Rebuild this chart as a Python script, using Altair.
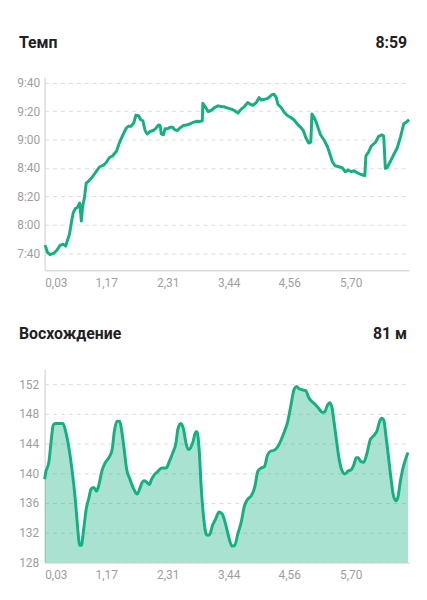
import altair as alt
import pandas as pd

GREEN = "#14b082"

pace_title = "Темп"
pace_value = "8:59"
elev_title = "Восхождение"
elev_value = "81 м"

x_ticks = [0.03, 1.17, 2.31, 3.44, 4.56, 5.70]
pace_ticks = [460, 480, 500, 520, 540, 560, 580]
elev_ticks = [128, 132, 136, 140, 144, 148, 152]

pace_km = [0.04,0.08,0.13,0.20,0.26,0.31,0.37,0.42,0.45,0.49,0.53,0.56,0.60,0.64,0.68,0.71,0.73,0.77,0.80,0.85,
           0.91,0.97,1.05,1.12,1.17,1.23,1.29,1.36,1.42,1.48,1.54,1.58,1.63,1.68,1.72,1.77,1.81,1.85,1.89,1.93,
           1.98,2.04,2.09,2.14,2.17,2.19,2.23,2.26,2.31,2.35,2.40,2.44,2.49,2.53,2.60,2.66,2.72,2.78,2.84,2.90,
           2.95,2.96,3.00,3.06,3.12,3.18,3.24,3.30,3.36,3.42,3.49,3.55,3.61,3.67,3.73,3.79,3.84,3.89,3.95,4.00,
           4.04,4.10,4.16,4.20,4.24,4.28,4.32,4.35,4.41,4.47,4.53,4.59,4.65,4.71,4.78,4.82,4.87,4.92,4.96,4.98,
           5.02,5.06,5.10,5.14,5.21,5.27,5.31,5.36,5.41,5.48,5.54,5.60,5.65,5.71,5.76,5.82,5.88,5.96,5.98,6.03,
           6.08,6.16,6.22,6.28,6.31,6.34,6.37,6.43,6.49,6.56,6.62,6.68,6.74,6.78]
pace_min = [465.7,460.7,459.0,460.0,462.3,465.3,466.4,465.0,468.8,473.4,482.7,488.5,491.5,492.4,495.4,482.7,492.0,500.0,509.3,511.0,
            513.5,516.7,520.9,522.0,523.9,527.4,528.6,531.8,538.3,543.4,548.0,549.4,549.4,551.7,557.3,556.8,554.0,553.3,546.4,544.0,
            545.7,546.4,548.0,550.3,549.9,544.0,543.4,547.6,547.6,548.7,548.7,546.9,546.4,548.0,549.9,550.3,551.0,552.2,552.9,552.7,
            553.3,565.6,563.3,559.6,560.8,562.6,563.8,563.3,563.1,562.2,561.5,560.3,558.7,561.5,563.3,566.1,564.9,564.2,566.1,569.6,
            567.9,568.4,569.1,570.3,571.7,571.9,569.6,564.9,562.6,559.1,556.8,555.6,553.8,551.0,548.3,546.4,541.1,537.6,538.3,558.0,
            555.7,552.2,547.6,543.4,539.4,534.8,530.2,524.4,521.6,520.9,520.2,517.4,518.6,517.4,518.1,516.7,515.6,514.6,528.6,531.3,
            535.5,538.3,542.5,543.4,542.5,519.7,520.2,524.4,529.0,534.1,541.8,551.0,552.7,554.0]

elev_km = [0.03,0.05,0.11,0.15,0.19,0.23,0.31,0.37,0.42,0.48,0.54,0.60,0.64,0.68,0.71,0.75,0.80,0.85,0.89,0.94,
           0.99,1.03,1.09,1.15,1.22,1.28,1.32,1.37,1.42,1.46,1.50,1.55,1.61,1.68,1.74,1.79,1.83,1.87,1.92,1.97,
           2.01,2.06,2.12,2.20,2.28,2.34,2.40,2.46,2.50,2.55,2.60,2.65,2.69,2.73,2.78,2.83,2.85,2.89,2.93,2.98,
           3.03,3.08,3.14,3.20,3.26,3.32,3.38,3.44,3.50,3.55,3.61,3.67,3.73,3.79,3.85,3.92,3.98,4.04,4.10,4.16,
           4.22,4.28,4.35,4.41,4.47,4.53,4.59,4.65,4.70,4.74,4.82,4.87,4.92,4.99,5.05,5.11,5.17,5.22,5.27,5.31,
           5.35,5.39,5.43,5.48,5.53,5.59,5.65,5.71,5.76,5.80,5.84,5.88,5.94,6.00,6.06,6.13,6.19,6.23,6.27,6.31,
           6.35,6.40,6.45,6.49,6.54,6.57,6.62,6.66,6.71,6.76]
elev_m = [139.2,140.1,141.6,144.3,146.5,146.7,146.7,146.7,145.6,143.4,140.3,136.3,132.8,130.3,130.3,132.3,135.2,136.7,137.9,138.1,
          137.6,138.3,140.3,141.4,142.1,143.2,145.6,147.0,147.0,145.6,143.4,140.5,139.2,137.9,137.2,137.9,138.7,139.0,138.8,138.5,
          139.2,139.8,140.2,140.7,140.7,141.6,142.7,144.0,146.0,146.7,146.0,144.0,143.2,143.4,144.3,145.6,145.6,143.4,138.1,133.7,
          131.7,131.7,133.0,133.9,134.8,134.5,133.2,131.4,130.2,130.3,131.9,133.4,135.6,136.5,136.9,138.1,140.3,140.7,140.9,142.5,
          143.0,143.1,143.6,144.5,145.6,146.9,149.1,151.3,151.7,151.4,151.2,151.1,150.2,149.6,149.2,148.7,148.2,148.3,149.2,149.5,
          148.9,146.9,144.7,142.1,140.5,139.9,140.3,140.5,141.2,142.1,142.1,141.6,141.5,142.7,144.5,145.1,145.8,146.9,147.4,147.2,
          145.1,142.1,139.0,137.0,136.3,136.7,139.0,140.5,141.8,142.8]

W, H = 368, 195
X_DOMAIN = [0.03, 6.78]

pace_df = pd.DataFrame({"km": pace_km, "pace": pace_min})
elev_df = pd.DataFrame({"km": elev_km, "elev": elev_m})

x_axis = alt.Axis(values=x_ticks, grid=False, ticks=False, domain=True, title=None,
                  labelExpr="replace(format(datum.value, '.2f'), '.', ',')",
                  labelFlush=3, labelPadding=7, labelOverlap=False)
x_enc = alt.X("km:Q", scale=alt.Scale(domain=X_DOMAIN, nice=False, zero=False), axis=x_axis)


def header(left, right, dy):
    df = pd.DataFrame({"t": [left], "r": [right]})
    base = alt.Chart(df)
    l = base.mark_text(align="left", baseline="alphabetic", font="Roboto", fontSize=16,
                       fontWeight="bold", color="#212121").encode(
        text="t:N", x=alt.value(-26), y=alt.value(dy))
    r = base.mark_text(align="right", baseline="alphabetic", font="Roboto", fontSize=16,
                       fontWeight="bold", color="#212121").encode(
        text="r:N", x=alt.value(W - 2), y=alt.value(dy))
    return l + r


pace_line = alt.Chart(pace_df).mark_line(color=GREEN, strokeWidth=3, strokeJoin="round").encode(
    x=x_enc,
    y=alt.Y("pace:Q", scale=alt.Scale(domain=[448, 584], nice=False, zero=False),
            axis=alt.Axis(values=pace_ticks, title=None, ticks=False, domain=True, grid=True,
                          labelPadding=5, labelOverlap=False,
                          labelExpr="floor(datum.value/60) + ':' + (datum.value % 60 < 10 ? '0' : '') + (datum.value % 60)")),
)
top = alt.layer(pace_line, header(pace_title, pace_value, -29)).properties(width=W, height=H)

elev_y = alt.Y("elev:Q", scale=alt.Scale(domain=[128, 154], nice=False, zero=False),
               axis=alt.Axis(values=elev_ticks, title=None, ticks=False, domain=True, grid=True,
                             labelPadding=6, labelOverlap=False))
elev_area = alt.Chart(elev_df).mark_area(color=GREEN, opacity=0.36, interpolate="monotone", clip=True).encode(
    x=x_enc, y=elev_y)
elev_line = alt.Chart(elev_df).mark_line(color=GREEN, strokeWidth=3, interpolate="monotone").encode(
    x=x_enc, y=elev_y)
bottom = alt.layer(elev_area, elev_line, header(elev_title, elev_value, -31)).properties(width=W, height=H)

chart = alt.vconcat(top, bottom, spacing=38).properties(
    padding={"left": 8, "top": 25, "right": 5, "bottom": 5},
    background="white",
).configure_view(stroke=None).configure_axis(
    labelFont="Roboto", labelFontSize=12, labelColor="#9e9e9e",
    domainColor="#dcdcdc", domainWidth=1.5,
    gridColor="#dddddd", gridDash=[4, 4], gridWidth=1,
)

chart.save("out.html", embed_options={"renderer": "svg", "actions": False})
